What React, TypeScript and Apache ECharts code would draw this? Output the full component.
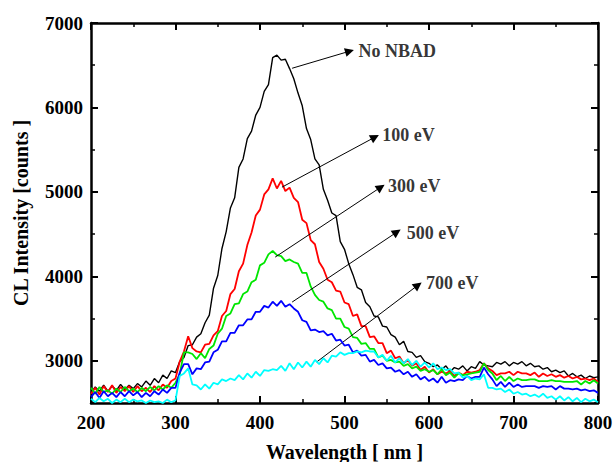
import React, { useEffect, useRef } from "react";
import * as echarts from "echarts";

// Wavelength grid (nm): 200..800, step 5
const WL_START = 200;
const WL_STEP = 5;

// CL intensity (counts), one value every 5 nm
const noNBAD = [
  2620, 2690, 2640, 2710, 2640, 2700, 2650, 2720, 2660, 2710,
  2670, 2730, 2690, 2760, 2710, 2790, 2740, 2830, 2790, 2880,
  2860, 2990, 3040, 3180, 3190, 3280, 3320, 3450, 3540, 3860,
  4010, 4330, 4530, 4810, 4930, 5290, 5390, 5630, 5720, 5910,
  6000, 6190, 6270, 6590, 6620, 6560, 6570, 6460, 6340, 6170,
  6020, 5750, 5620, 5390, 5320, 5030, 4900, 4750, 4720, 4410,
  4320, 4150, 4020, 3870, 3840, 3690, 3640, 3530, 3520, 3410,
  3400, 3310, 3280, 3190, 3230, 3110, 3100, 3040, 3060, 2990,
  2970, 2930, 2950, 2900, 2940, 2870, 2920, 2900, 2940, 2880,
  2930, 2910, 2990, 2950, 2940, 2930, 2980, 2960, 2990, 2940,
  2980, 2960, 2990, 2940, 2970, 2930, 2940, 2900, 2920, 2870,
  2890, 2860, 2880, 2820, 2850, 2810, 2830, 2790, 2820, 2800,
  2810,
];
const ev100 = [
  2610, 2680, 2600, 2700, 2630, 2710, 2620, 2690, 2640, 2700,
  2630, 2700, 2640, 2680, 2630, 2700, 2650, 2720, 2680, 2760,
  2790, 2990, 3110, 3290, 3150, 3110, 3100, 3190, 3200, 3300,
  3350, 3530, 3590, 3790, 3850, 4060, 4150, 4370, 4520, 4720,
  4790, 4970, 5030, 5160, 5040, 5130, 5010, 5050, 4930, 4880,
  4670, 4630, 4430, 4380, 4170, 4090, 3960, 3930, 3830, 3820,
  3690, 3670, 3530, 3550, 3410, 3410, 3280, 3290, 3210, 3210,
  3090, 3120, 3030, 3050, 2970, 3010, 2940, 2970, 2890, 2930,
  2860, 2900, 2840, 2870, 2850, 2880, 2820, 2860, 2830, 2870,
  2860, 2870, 2890, 2970, 2910, 2880, 2830, 2850, 2850, 2870,
  2830, 2870, 2850, 2850, 2830, 2860, 2810, 2850, 2820, 2840,
  2810, 2830, 2800, 2820, 2790, 2810, 2780, 2790, 2770, 2790,
  2750,
];
const ev300 = [
  2680, 2610, 2690, 2630, 2650, 2610, 2670, 2630, 2690, 2640,
  2670, 2630, 2680, 2640, 2690, 2650, 2700, 2660, 2710, 2680,
  2740, 2840, 3100, 3100, 3080, 3020, 3090, 3030, 3140, 3180,
  3320, 3380, 3530, 3560, 3670, 3680, 3790, 3820, 3930, 3960,
  4130, 4160, 4260, 4300, 4250, 4240, 4180, 4200, 4170, 4150,
  4040, 4040, 3880, 3780, 3720, 3700, 3620, 3600, 3500, 3500,
  3400, 3380, 3280, 3270, 3200, 3210, 3140, 3140, 3040, 3060,
  3000, 3010, 2980, 2990, 2940, 2960, 2910, 2930, 2880, 2900,
  2870, 2890, 2840, 2900, 2830, 2860, 2800, 2850, 2830, 2840,
  2850, 2860, 2870, 2970, 2890, 2850, 2770, 2820, 2760, 2810,
  2760, 2790, 2770, 2770, 2780, 2780, 2760, 2760, 2760, 2770,
  2760, 2760, 2750, 2750, 2750, 2760, 2720, 2760, 2730, 2770,
  2730,
];
const ev500 = [
  2570, 2630, 2560, 2640, 2580, 2620, 2570, 2630, 2580, 2640,
  2590, 2630, 2570, 2620, 2580, 2640, 2600, 2660, 2620, 2680,
  2680, 2860, 2960, 2960, 2840, 2910, 2900, 2980, 2990, 3100,
  3130, 3230, 3230, 3330, 3330, 3420, 3420, 3490, 3490, 3580,
  3580, 3650, 3630, 3700, 3650, 3710, 3640, 3670, 3620, 3580,
  3480, 3460, 3360, 3370, 3340, 3350, 3300, 3320, 3240, 3250,
  3180, 3190, 3100, 3120, 3060, 3070, 2990, 3010, 2950, 2970,
  2910, 2920, 2870, 2890, 2840, 2870, 2810, 2840, 2780, 2810,
  2760, 2790, 2740, 2810, 2740, 2770, 2760, 2780, 2770, 2820,
  2790, 2810, 2810, 2920, 2840, 2780, 2700, 2750, 2690, 2740,
  2690, 2720, 2690, 2700, 2700, 2700, 2680, 2700, 2690, 2700,
  2660, 2700, 2670, 2670, 2660, 2670, 2650, 2660, 2640, 2650,
  2620,
];
const ev700 = [
  2550, 2510, 2560, 2520, 2550, 2500, 2540, 2510, 2550, 2510,
  2540, 2520, 2530, 2500, 2530, 2510, 2520, 2500, 2540, 2510,
  2530, 2820, 2850, 2910, 2720, 2710, 2660, 2720, 2670, 2740,
  2720, 2780, 2760, 2790, 2770, 2830, 2780, 2850, 2800, 2870,
  2820, 2890, 2880, 2900, 2890, 2940, 2880, 2970, 2900, 2980,
  2920, 2990, 2930, 3010, 2960, 3030, 2980, 3060, 3050, 3100,
  3070, 3090, 3090, 3110, 3100, 3120, 3110, 3110, 3040, 3070,
  3000, 3060, 2980, 3030, 2970, 3020, 2950, 3000, 2930, 2980,
  2920, 2970, 2900, 2920, 2890, 2900, 2850, 2860, 2800, 2820,
  2770, 2790, 2780, 2840, 2680, 2680, 2660, 2670, 2630, 2660,
  2610, 2630, 2600, 2610, 2580, 2600, 2570, 2610, 2560, 2580,
  2540, 2580, 2530, 2570, 2520, 2560, 2510, 2550, 2520, 2540,
  2510,
];

const seriesNames = ["No NBAD", "100 eV", "300 eV", "500 eV", "700 eV"];
const seriesValues = [noNBAD, ev100, ev300, ev500, ev700];
const seriesColors = ["#000000", "#ff0000", "#00e600", "#0000ff", "#00ffff"];
const seriesWidths = [1.4, 1.8, 1.8, 1.8, 1.8];

// Annotation arrows (data coords: [nm, counts]) and label anchors
const arrowStarts = [[438, 6464], [426, 5056], [418, 4228], [438, 3695], [467, 2985]];
const arrowEnds = [[506, 6666], [536, 5648], [543, 5056], [562, 4524], [587, 3896]];
const labelAnchors = [[516, 6666], [544, 5672], [551, 5068], [573, 4512], [596, 3920]];

const xTicks = [200, 300, 400, 500, 600, 700, 800];
const yMajor = [3000, 4000, 5000, 6000, 7000];
const yMinor = [2500, 3500, 4500, 5500, 6500];

const FONT = "'Liberation Serif', 'Times New Roman', serif";

export default function App() {
  const ref = useRef<HTMLDivElement>(null);
  useEffect(() => {
    if (!ref.current) return;
    const chart = echarts.init(ref.current, undefined, { renderer: "svg" });
    const axisLine = { show: true, onZero: false, lineStyle: { color: "#000", width: 2.5 } };
    const labelStyle = { fontFamily: FONT, fontWeight: "bold" as const, fontSize: 18, color: "#000" };
    const tickLabelStyle = { ...labelStyle, fontSize: 19 };
    const titleStyle = { ...labelStyle, fontSize: 20 };
    const xBase = (pos: "bottom" | "top", labels: boolean) => ({
      type: "value",
      position: pos,
      min: xTicks[0],
      max: xTicks[xTicks.length - 1],
      interval: 100,
      axisLine,
      axisTick: { show: true, inside: true, length: 7, lineStyle: { color: "#000", width: 2 } },
      minorTick: { show: true, splitNumber: 2, length: 4, lineStyle: { color: "#000", width: 1.5 } },
      splitLine: { show: false },
      minorSplitLine: { show: false },
      axisLabel: labels ? { ...tickLabelStyle, margin: 10, formatter: (v: number) => String(v) } : { show: false },
      ...(labels
        ? {
            name: "Wavelength [ nm ]",
            nameLocation: "middle",
            nameGap: 39,
            nameTextStyle: titleStyle,
          }
        : {}),
    });
    const yBase = (pos: "left" | "right", major: boolean, labels: boolean) => ({
      type: "value",
      position: pos,
      min: 2500,
      max: 7000,
      interval: 500,
      axisLine: major ? axisLine : { show: false },
      axisTick: {
        show: true,
        inside: true,
        length: major ? 7 : 4,
        customValues: major ? yMajor : yMinor,
        lineStyle: { color: "#000", width: major ? 2 : 1.5 },
      },
      splitLine: { show: false },
      axisLabel: labels
        ? { ...tickLabelStyle, margin: 8, customValues: yMajor, formatter: (v: number) => String(v) }
        : { show: false },
      ...(labels
        ? {
            name: "CL Intensity [counts ]",
            nameLocation: "middle",
            nameGap: 60,
            nameRotate: 90,
            nameTextStyle: titleStyle,
          }
        : {}),
    });

    const lineSeries = seriesNames.map((name, i) => ({
      type: "line",
      name,
      xAxisIndex: 0,
      yAxisIndex: 0,
      showSymbol: false,
      symbol: "none",
      clip: true,
      lineStyle: { color: seriesColors[i], width: seriesWidths[i] },
      data: seriesValues[i].map((v, k) => [WL_START + k * WL_STEP, v]),
      z: 2 + i,
      silent: true,
    }));

    const option = {
      animation: false,
      grid: { left: 91, right: 16, top: 23, bottom: 59, containLabel: false, outerBoundsMode: "none" },
      xAxis: [xBase("bottom", true), xBase("top", false)],
      yAxis: [
        yBase("left", true, true),
        yBase("left", false, false),
        yBase("right", true, false),
        yBase("right", false, false),
      ],
      series: [
        ...lineSeries,
        {
          type: "line",
          name: "arrows",
          data: [],
          silent: true,
          z: 10,
          markLine: {
            silent: true,
            symbol: ["none", "triangle"],
            symbolSize: 9,
            label: { show: false },
            lineStyle: { color: "#000", width: 1, type: "solid" },
            itemStyle: { color: "#000" },
            emphasis: { disabled: true },
            data: arrowStarts.map((s, i) => [{ coord: s }, { coord: arrowEnds[i] }]),
          },
        },
        {
          type: "scatter",
          name: "labels",
          symbolSize: 1,
          itemStyle: { color: "rgba(0,0,0,0)" },
          silent: true,
          z: 11,
          data: labelAnchors.map((p, i) => ({ value: p, name: seriesNames[i] })),
          label: {
            show: true,
            position: "right",
            distance: 0,
            formatter: "{b}",
            ...labelStyle,
          },
        },
      ],
    };
    chart.setOption(option as any);
    return () => chart.dispose();
  }, []);
  return (
    <div
      ref={ref}
      style={{ position: "absolute", left: 0, top: 0, width: 614, height: 462, background: "#fff" }}
    />
  );
}
